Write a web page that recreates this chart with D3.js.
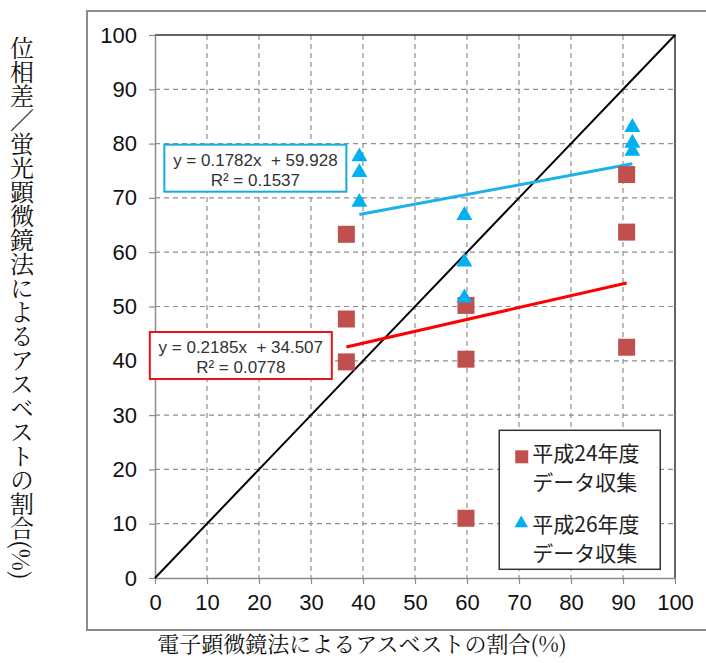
<!DOCTYPE html>
<html>
<head>
<meta charset="utf-8">
<script src="https://cdn.jsdelivr.net/npm/d3@7"></script>
<style>
  body { margin: 0; background: #fff; }
  .tick text { font-family: "Liberation Sans", Arial, sans-serif; font-size: 22px; fill: #111; }
</style>
</head>
<body>
<div id="vis"></div>
<script>
// 平成24年度データ収集 (squares)
var h24X = [36.8, 36.8, 36.8, 59.8, 59.8, 59.8, 90.7, 90.7, 90.7];
var h24Y = [63.3, 47.7, 39.8, 50.2, 40.3, 11.0, 74.3, 63.7, 42.5];
// 平成26年度データ収集 (triangles)
var h26X = [39.3, 39.3, 39.3, 59.5, 59.5, 59.5, 91.8, 91.8, 91.8];
var h26Y = [77.6, 74.7, 69.2, 66.8, 58.2, 51.6, 83.0, 80.1, 78.6];

// linear trend lines shown on the chart
var fit24 = [0.2185, 34.507, 0.0778];
var fit26 = [0.1782, 59.928, 0.1537];

var tickValues = [0, 10, 20, 30, 40, 50, 60, 70, 80, 90, 100];
var legendLabels = [["平成24年度", "データ収集"], ["平成26年度", "データ収集"]];
var xTitle = "電子顕微鏡法によるアスベストの割合(%)";
var yTitle = "位相差／蛍光顕微鏡法によるアスベストの割合(%)";

var width = 706, height = 663;
var margin = { left: 155, top: 35, right: 31, bottom: 85 };
var drawWidth = width - margin.left - margin.right;
var drawHeight = height - margin.top - margin.bottom;

var red = "#c0504d", blue = "#00b0f0";

var svg = d3.select("#vis").append("svg")
    .attr("width", width)
    .attr("height", height);

// outer grey frame (runs off the right edge)
svg.append("rect")
    .attr("x", 87).attr("y", 11)
    .attr("width", 640).attr("height", 619)
    .attr("fill", "none")
    .attr("stroke", "#8c8c8c")
    .attr("stroke-width", 2);

var g = svg.append("g")
    .attr("transform", "translate(" + margin.left + "," + margin.top + ")");

var xScale = d3.scaleLinear().domain([0, 100]).range([0, drawWidth]);
var yScale = d3.scaleLinear().domain([0, 100]).range([drawHeight, 0]);

// dashed grid
var inner = tickValues.slice(1, -1);
g.selectAll(".vgrid").data(inner).enter().append("line")
    .attr("class", "vgrid")
    .attr("x1", function(d) { return xScale(d); })
    .attr("x2", function(d) { return xScale(d); })
    .attr("y1", 0).attr("y2", drawHeight)
    .attr("stroke", "#8f8f8f")
    .attr("stroke-width", 1.2)
    .attr("stroke-dasharray", "5,4");
g.selectAll(".hgrid").data(inner).enter().append("line")
    .attr("class", "hgrid")
    .attr("y1", function(d) { return yScale(d); })
    .attr("y2", function(d) { return yScale(d); })
    .attr("x1", 0).attr("x2", drawWidth)
    .attr("stroke", "#8f8f8f")
    .attr("stroke-width", 1.2)
    .attr("stroke-dasharray", "5,4");

// top and right border
g.append("path")
    .attr("d", "M0,0H" + drawWidth + "V" + drawHeight)
    .attr("fill", "none")
    .attr("stroke", "#333")
    .attr("stroke-width", 1.5);

var xAxis = d3.axisBottom(xScale).tickValues(tickValues).tickSize(6).tickPadding(10).tickSizeOuter(0);
var yAxis = d3.axisLeft(yScale).tickValues(tickValues).tickSize(6).tickPadding(12).tickSizeOuter(0);

var xAxisG = g.append("g")
    .attr("transform", "translate(0," + drawHeight + ")")
    .call(xAxis);
var yAxisG = g.append("g").call(yAxis);
[xAxisG, yAxisG].forEach(function(a) {
    a.select(".domain").attr("stroke", "#8c8c8c").attr("stroke-width", 1.5);
    a.selectAll(".tick line").attr("stroke", "#8c8c8c").attr("stroke-width", 1.2);
});

// 1:1 line
g.append("line")
    .attr("x1", xScale(0)).attr("y1", yScale(0))
    .attr("x2", xScale(100)).attr("y2", yScale(100))
    .attr("stroke", "#000")
    .attr("stroke-width", 2);

// trend lines
var drawFit = function(xs, fit, color) {
    var x0 = d3.min(xs), x1 = d3.max(xs);
    g.append("line")
        .attr("x1", xScale(x0)).attr("y1", yScale(fit[0] * x0 + fit[1]))
        .attr("x2", xScale(x1)).attr("y2", yScale(fit[0] * x1 + fit[1]))
        .attr("stroke", color)
        .attr("stroke-width", 3);
};
drawFit(h24X, fit24, "#ff0000");
drawFit(h26X, fit26, "#1cb2e8");

// markers
var sq = 17;
g.selectAll(".sq").data(h24X).enter().append("rect")
    .attr("class", "sq")
    .attr("x", function(d) { return xScale(d) - sq / 2; })
    .attr("y", function(d, i) { return yScale(h24Y[i]) - sq / 2; })
    .attr("width", sq).attr("height", sq)
    .attr("fill", red);

var tri = d3.symbol().type(d3.symbolTriangle).size(110);
g.selectAll(".tri").data(h26X).enter().append("path")
    .attr("class", "tri")
    .attr("d", tri)
    .attr("transform", function(d, i) { return "translate(" + xScale(d) + "," + yScale(h26Y[i]) + ")"; })
    .attr("fill", blue);

// equation boxes
var eqBox = function(bx, by, fit, color) {
    var box = g.append("g").attr("transform", "translate(" + bx + "," + by + ")");
    box.append("rect")
        .attr("width", 182).attr("height", 47)
        .attr("fill", "#fff")
        .attr("stroke", color)
        .attr("stroke-width", 2);
    var lines = ["y = " + fit[0] + "x  + " + fit[1], "R\u00b2 = " + fit[2]];
    box.selectAll("text").data(lines).enter().append("text")
        .attr("x", 91)
        .attr("y", function(d, i) { return 21 + i * 20; })
        .attr("text-anchor", "middle")
        .style("font-family", "Liberation Sans, Arial, sans-serif")
        .style("font-size", "17px")
        .attr("fill", "#333")
        .style("white-space", "pre")
        .text(function(d) { return d; });
};
eqBox(xScale(1.8), yScale(79.8), fit26, "#1aa9df");
eqBox(xScale(-1.0), yScale(45.3), fit24, "#e8121c");

// legend
var legend = g.append("g").attr("transform", "translate(" + xScale(66.2) + "," + yScale(27.2) + ")");
legend.append("rect")
    .attr("width", 161).attr("height", 139)
    .attr("fill", "#fff")
    .attr("stroke", "#333")
    .attr("stroke-width", 1.5);
legend.append("rect")
    .attr("x", 16).attr("y", 20)
    .attr("width", 13).attr("height", 13)
    .attr("fill", red);
legend.append("path")
    .attr("d", d3.symbol().type(d3.symbolTriangle).size(80))
    .attr("transform", "translate(22,93)")
    .attr("fill", blue);
legendLabels.forEach(function(lab, k) {
    legend.selectAll(".lt" + k).data(lab).enter().append("text")
        .attr("x", 33)
        .attr("y", function(d, i) { return 31 + k * 71 + i * 29; })
        .style("font-family", "Noto Sans CJK JP, sans-serif")
        .style("font-size", "21px")
        .attr("fill", "#222")
        .text(function(d) { return d; });
});

// axis titles
svg.append("text")
    .attr("x", 362).attr("y", 652)
    .attr("text-anchor", "middle")
    .style("font-family", "Noto Serif CJK JP, Noto Sans CJK JP, serif")
    .style("font-size", "22px")
    .attr("fill", "#111")
    .text(xTitle);

svg.append("text")
    .attr("x", 22).attr("y", 36)
    .style("writing-mode", "vertical-rl")
    .style("font-family", "Noto Serif CJK JP, Noto Sans CJK JP, serif")
    .style("font-size", "24px")
    .attr("fill", "#111")
    .text(yTitle);
</script>
</body>
</html>
